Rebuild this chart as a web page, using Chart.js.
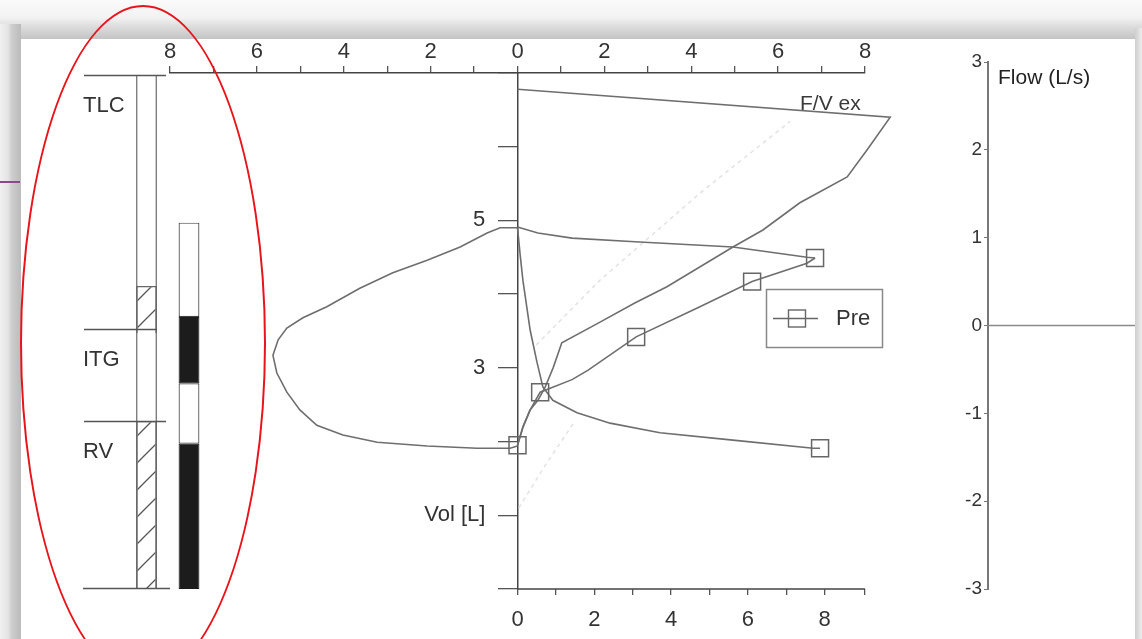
<!DOCTYPE html>
<html>
<head>
<meta charset="utf-8">
<script src="https://cdn.jsdelivr.net/npm/chart.js@4.4.1/dist/chart.umd.min.js"></script>
<style>
  html, body { margin: 0; padding: 0; width: 1142px; height: 639px; overflow: hidden; background: #fafafa; }
  .shade-top { position: absolute; left: 0; top: 0; width: 1142px; height: 39px;
    background: linear-gradient(#fbfbfb 0, #f2f2f2 18px, #dedede 26px, #c6c6c6 38px); }
  .shade-left { position: absolute; left: 0; top: 24px; width: 21px; height: 615px;
    background: linear-gradient(to right, #f0f0f0 0, #e4e4e4 8px, #cdcdcd 12px, #bdbdbd 20px); }
  .shade-right { position: absolute; left: 1135px; top: 28px; width: 7px; height: 611px;
    background: linear-gradient(to right, #cfcfcf, #ededed); }
  .panel { position: absolute; left: 21px; top: 39px; width: 1114px; height: 600px; background: #fff; }
  .mark { position: absolute; left: 0; top: 181px; width: 20px; height: 2px; background: #8a4a8a; }
  .ring { position: absolute; left: 20px; top: 5px; width: 246px; height: 676px; box-sizing: border-box;
    border: 2.5px solid #e8141b; border-radius: 50%; pointer-events: none; }
  .box { position: absolute; top: 0; }
</style>
</head>
<body>
<div class="shade-top"></div>
<div class="shade-left"></div>
<div class="shade-right"></div>
<div class="panel"></div>
<div class="mark"></div>
<div class="box" style="left:60px"><canvas id="columnChart" width="180" height="639"></canvas></div>
<div class="box" style="left:130px"><canvas id="mainChart" width="800" height="639"></canvas></div>
<div class="box" style="left:940px"><canvas id="flowChart" width="202" height="639"></canvas></div>
<div class="ring"></div>
<script>
var FONT = '"Liberation Sans", Arial, sans-serif';

// inspiratory flow-volume loop (top axis, volume in L)
var loopX = [-0.01, -0.40, -0.70, -1.32, -2.08, -2.87, -3.63, -4.39, -4.94, -5.31, -5.51, -5.63,
             -5.54, -5.31, -5.01, -4.62, -4.02, -3.23, -2.08, -0.93, -0.17, 0];
var loopY = [4.90, 4.90, 4.83, 4.64, 4.46, 4.29, 4.08, 3.83, 3.68, 3.54, 3.38, 3.17,
             2.93, 2.67, 2.43, 2.22, 2.09, 1.99, 1.94, 1.91, 1.91, 1.94];

// F/V ex curve
var fvExX = [0, 0.13, 0.29, 0.47, 0.63, 0.82, 1.02, 1.90, 2.70, 3.44, 4.96, 5.65, 6.50, 7.59, 8.05, 8.58, 0];
var fvExY = [1.95, 2.20, 2.43, 2.56, 2.73, 3.00, 3.34, 3.62, 3.88, 4.10, 4.64, 4.87, 5.24, 5.59, 5.96, 6.40, 6.78];

// Pre curves (bottom axis)
var preUpperX = [0, 0.53, 1.42, 3.06, 5.61, 7.54, 7.75];
var preUpperY = [4.91, 4.83, 4.76, 4.71, 4.64, 4.50, 4.49];

var preMidX = [0, 0.14, 0.33, 0.59, 1.42, 1.84, 3.09, 4.75, 6.11, 7.54, 7.75];
var preMidY = [1.95, 2.20, 2.43, 2.67, 2.84, 2.97, 3.42, 3.83, 4.17, 4.42, 4.49];

var preLowerX = [0, 0.07, 0.14, 0.33, 0.51, 0.66, 0.92, 1.55, 2.41, 3.71, 5.61, 7.70, 7.88];
var preLowerY = [4.90, 4.53, 4.19, 3.51, 3.07, 2.74, 2.56, 2.39, 2.25, 2.12, 2.02, 1.91, 1.91];

var preMarkX = [0, 0.59, 3.09, 6.11, 7.75, 7.88];
var preMarkY = [1.95, 2.67, 3.42, 4.17, 4.49, 1.91];

// faint predicted line (null = gap)
var predX = [0.03, 0.63, 1.28, 1.30, 0.43, 1.90, 4.20, 6.27];
var predY = [1.10, 1.67, 2.24, null, 3.31, 4.19, 5.37, 6.34];

var volTickValues = [1, 3, 5];
var volTickText = ['Vol [L]', '3', '5'];

// left column (volumes in L)
var columnLabels = ['ref', 'meas'];
var frameTop = 6.97;
var levelNames = ['TLC', 'ITG', 'RV'];
var levelValues = [6.97, 3.53, 2.28];
var hatchRanges = [[3.47, 4.11], [0, 2.28]];
var whiteRanges = [[3.69, 4.97], [1.97, 2.79]];
var blackRanges = [[2.79, 3.69], [0, 1.97]];

// flow trace
var flowTime = [0, 1];
var flowValues = [0, 0];

function pts(xs, ys) {
    return xs.map(function (x, i) { return { x: x, y: ys[i] }; });
}

var mainDecor = {
    id: 'mainDecor',
    beforeDatasetsDraw: function (chart) {
        var ctx = chart.ctx;
        ctx.save();
        ctx.fillStyle = '#3a3a3a';
        ctx.font = '21px ' + FONT;
        ctx.textAlign = 'left';
        ctx.textBaseline = 'middle';
        ctx.fillText('F/V ex', 670, 104);
        ctx.restore();
    },
    afterDraw: function (chart) {
        var ctx = chart.ctx, xv = chart.scales.xv, area = chart.chartArea;
        ctx.save();
        ctx.strokeStyle = '#444';
        ctx.lineWidth = 1.5;
        ctx.beginPath();
        ctx.moveTo(xv.getPixelForValue(0), xv.top);
        ctx.lineTo(area.right, xv.top);
        ctx.stroke();

        // legend box
        ctx.strokeStyle = '#888';
        ctx.lineWidth = 1.5;
        ctx.strokeRect(636.5, 289.5, 116, 58);
        ctx.strokeStyle = '#666';
        ctx.lineWidth = 1.4;
        ctx.beginPath();
        ctx.moveTo(643, 318.5);
        ctx.lineTo(688, 318.5);
        ctx.stroke();
        ctx.strokeRect(658.5, 310, 17, 17);
        ctx.fillStyle = '#333';
        ctx.font = '22px ' + FONT;
        ctx.textAlign = 'left';
        ctx.textBaseline = 'middle';
        ctx.fillText('Pre', 706, 319);
        ctx.restore();
    }
};

var tickFont = { family: FONT, size: 22 };

new Chart(document.getElementById('mainChart'), {
    type: 'line',
    data: {
        datasets: [
            { label: 'Pre', data: pts(preMarkX, preMarkY), xAxisID: 'xv', yAxisID: 'yv', showLine: false,
              pointStyle: 'rect', pointRadius: 12, pointBorderColor: '#666', pointBorderWidth: 1.5,
              pointBackgroundColor: 'rgba(0,0,0,0)', order: 0 },
            { data: pts(loopX, loopY), xAxisID: 'xf', yAxisID: 'yv', order: 1 },
            { data: pts(fvExX, fvExY), xAxisID: 'xf', yAxisID: 'yv', order: 1 },
            { data: pts(preUpperX, preUpperY), xAxisID: 'xv', yAxisID: 'yv', order: 1 },
            { data: pts(preMidX, preMidY), xAxisID: 'xv', yAxisID: 'yv', order: 1 },
            { data: pts(preLowerX, preLowerY), xAxisID: 'xv', yAxisID: 'yv', order: 1 },
            { data: pts(predX, predY), xAxisID: 'xf', yAxisID: 'yv', borderColor: '#e2e2e2',
              borderDash: [4, 4], borderWidth: 1.5, order: 2 }
        ]
    },
    options: {
        responsive: false,
        animation: false,
        clip: false,
        layout: { padding: { left: 40, right: 65, top: 0, bottom: 0 } },
        plugins: { legend: { display: false }, tooltip: { enabled: false } },
        elements: {
            line: { borderColor: '#6e6e6e', borderWidth: 1.6, tension: 0, fill: false },
            point: { radius: 0 }
        },
        scales: {
            xf: {
                type: 'linear', axis: 'x', position: 'top', min: -8, max: 8,
                afterFit: function (s) { s.height = 73; },
                ticks: { stepSize: 1, autoSkip: false, maxRotation: 0, padding: 1, color: '#333', font: tickFont,
                         callback: function (v) { return v % 2 === 0 ? String(Math.abs(v)) : ''; } },
                grid: { drawOnChartArea: false, tickLength: 7, color: '#555', lineWidth: 1.3 },
                border: { color: '#444', width: 1.5 }
            },
            xv: {
                type: 'linear', axis: 'x', position: 'bottom', min: -9.05, max: 9.05,
                afterFit: function (s) { s.height = 50; },
                ticks: { stepSize: 1, autoSkip: false, maxRotation: 0, padding: 12, color: '#333', font: tickFont,
                         callback: function (v) { return v >= 0 && v % 2 === 0 ? String(v) : ''; } },
                grid: { drawOnChartArea: false, tickLength: 6, lineWidth: 1.3,
                        color: function (c) { return c.tick && c.tick.value < 0 ? 'rgba(0,0,0,0)' : '#555'; } },
                border: { display: false }
            },
            yv: {
                type: 'linear', axis: 'y', position: { xf: 0 }, min: 0, max: 7,
                ticks: { stepSize: 1, autoSkip: false, display: false },
                grid: { drawOnChartArea: false, tickLength: 19, color: '#555', lineWidth: 1.3 },
                border: { color: '#444', width: 1.5 }
            },
            // label column of the volume axis, just left of its tick marks
            yl: {
                type: 'linear', axis: 'y', position: { xf: -0.74 }, min: 0, max: 7,
                ticks: { stepSize: 1, autoSkip: false, padding: 0, color: '#333', font: tickFont,
                         callback: function (v) {
                             var i = volTickValues.indexOf(v);
                             return i >= 0 ? volTickText[i] : '';
                         } },
                grid: { display: false },
                border: { display: false }
            }
        }
    },
    plugins: [mainDecor]
});

// left column chart
function makeHatch() {
    var c = document.createElement('canvas');
    c.width = 27; c.height = 27;
    var g = c.getContext('2d');
    g.strokeStyle = '#555';
    g.lineWidth = 1.3;
    g.beginPath();
    g.moveTo(0, 27); g.lineTo(27, 0);
    g.moveTo(-3, 3); g.lineTo(3, -3);
    g.moveTo(24, 30); g.lineTo(30, 24);
    g.stroke();
    return g.createPattern(c, 'repeat');
}
var hatch = makeHatch();

var columnDecor = {
    id: 'columnDecor',
    afterDatasetsDraw: function (chart) {
        var ctx = chart.ctx, y = chart.scales.y;
        var lineEnds = [106, 97, 106];
        ctx.save();
        ctx.strokeStyle = '#555';
        ctx.lineWidth = 1.3;
        ctx.fillStyle = '#333';
        ctx.font = '22px ' + FONT;
        ctx.textAlign = 'left';
        ctx.textBaseline = 'middle';
        levelValues.forEach(function (v, i) {
            var py = Math.round(y.getPixelForValue(v)) + 0.5;
            ctx.beginPath();
            ctx.moveTo(24, py);
            ctx.lineTo(lineEnds[i], py);
            ctx.stroke();
            ctx.fillText(levelNames[i], 23, py + 30);
        });
        var p0 = Math.round(y.getPixelForValue(0)) - 0.5;
        ctx.beginPath();
        ctx.moveTo(23, p0);
        ctx.lineTo(110, p0);
        ctx.stroke();
        ctx.restore();
    }
};

var columnSets = [];
hatchRanges.forEach(function (r) {
    columnSets.push({ data: [r, null], backgroundColor: hatch, borderColor: '#666',
                      borderWidth: { top: 1.2, bottom: 0, left: 1.5, right: 1.5 }, order: 1 });
});
whiteRanges.forEach(function (r) {
    columnSets.push({ data: [null, r], backgroundColor: '#fff', borderColor: '#444', borderWidth: 1.2, order: 1 });
});
blackRanges.forEach(function (r) {
    columnSets.push({ data: [null, r], backgroundColor: '#1c1c1c', borderColor: '#1c1c1c', borderWidth: 1, order: 1 });
});
columnSets.push({ data: [[0, frameTop], null], backgroundColor: '#fff', borderColor: '#666',
                  borderWidth: { top: 0, bottom: 0, left: 1.5, right: 1.5 }, order: 2 });

new Chart(document.getElementById('columnChart'), {
    type: 'bar',
    data: { labels: columnLabels, datasets: columnSets },
    options: {
        responsive: false,
        animation: false,
        layout: { padding: { left: 65.25, right: 29.75, top: 73, bottom: 50 } },
        datasets: { bar: { grouped: false, barPercentage: 0.49, categoryPercentage: 1, borderSkipped: false } },
        plugins: { legend: { display: false }, tooltip: { enabled: false } },
        scales: {
            x: { display: false },
            y: { display: false, min: 0, max: 7 }
        }
    },
    plugins: [columnDecor]
});

// flow panel
var flowDecor = {
    id: 'flowDecor',
    afterDraw: function (chart) {
        var ctx = chart.ctx;
        ctx.save();
        ctx.fillStyle = '#222';
        ctx.font = '21px ' + FONT;
        ctx.textAlign = 'left';
        ctx.textBaseline = 'middle';
        ctx.fillText('Flow (L/s)', 58, 78);
        ctx.restore();
    }
};

new Chart(document.getElementById('flowChart'), {
    type: 'line',
    data: {
        datasets: [{ data: pts(flowTime, flowValues), borderColor: '#8a8a8a', borderWidth: 1.6, pointRadius: 0 }]
    },
    options: {
        responsive: false,
        animation: false,
        layout: { padding: { left: 0, right: 7, top: 62, bottom: 50 } },
        plugins: { legend: { display: false }, tooltip: { enabled: false } },
        scales: {
            x: { type: 'linear', display: false, min: 0, max: 1 },
            y: {
                type: 'linear', position: 'left', min: -3, max: 3,
                afterFit: function (s) { s.width = 48; },
                ticks: { stepSize: 1, padding: 2, color: '#333', font: { family: FONT, size: 19 } },
                grid: { drawOnChartArea: false, tickLength: 4, color: '#777' },
                border: { color: '#777', width: 2 }
            }
        }
    },
    plugins: [flowDecor]
});
</script>
</body>
</html>
